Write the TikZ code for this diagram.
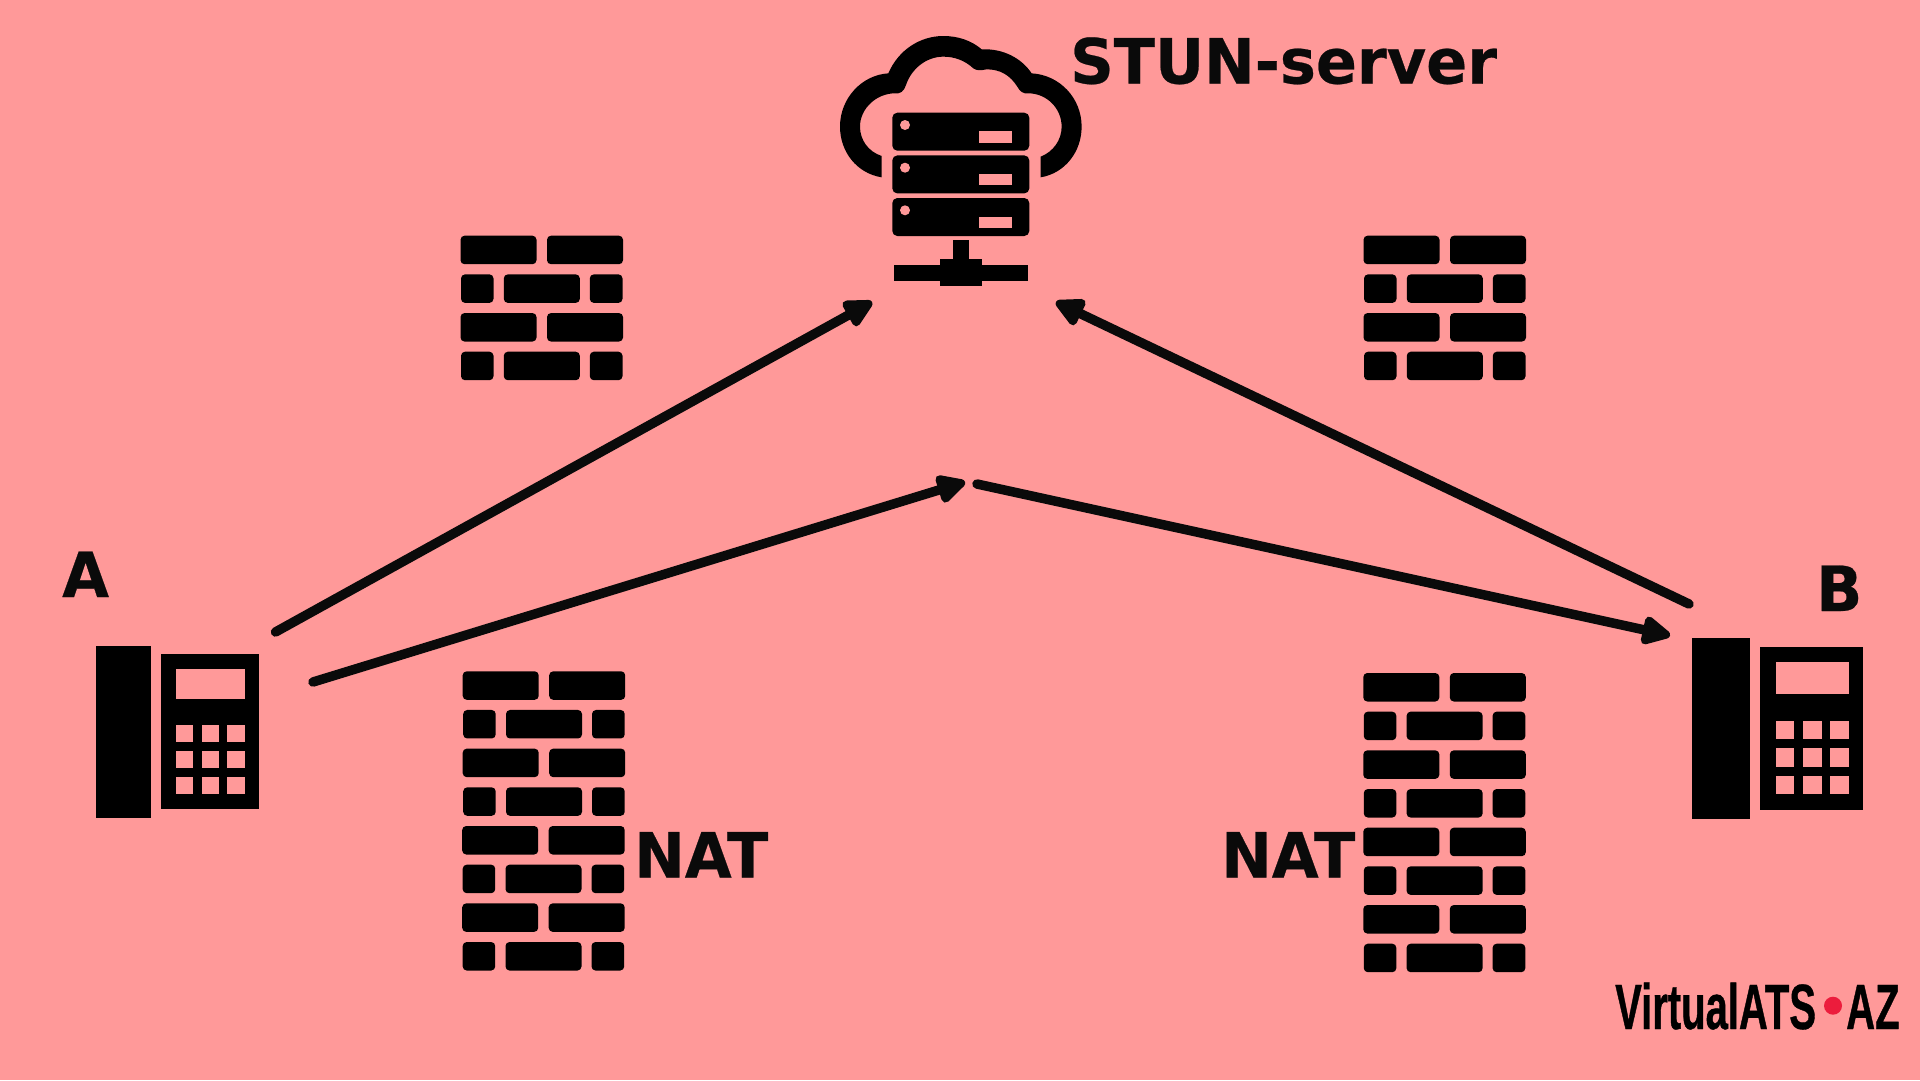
\documentclass[tikz,border=0pt]{standalone}
\usepackage{fontspec}
\setmainfont{DejaVu Sans}[BoldFeatures={FakeBold=0.4}]
\newfontfamily\logofont[FakeStretch=0.625,BoldFeatures={FakeStretch=0.625,FakeBold=0.6}]{Liberation Sans}
\usetikzlibrary{arrows.meta}

\definecolor{bgpink}{HTML}{FF9999}
\definecolor{inkgrey}{HTML}{0A0A0A}
\definecolor{logored}{HTML}{EC1C3C}

\tikzset{
 label/.style={inner sep=0pt,anchor=base west,yscale=1.03,text=inkgrey,font=\fontsize{60.5}{60.5}\selectfont\bfseries},
 logotext/.style={inner sep=0pt,anchor=base west,font=\fontsize{64}{64}\selectfont\logofont\bfseries},
 flow/.style={->,inkgrey,line width=9.5pt,line cap=round},
 brick/.style={fill=black,rounded corners=4pt},
 pics/phone/.style={code={
  \fill[black] (0,0) rectangle (58.3,180.7);
  \fill[black] (68.6,8.7) rectangle (171.6,172);
  \fill[bgpink] (84.3,24) rectangle (157.3,56);
  \foreach \kx in {84.3,111.6,138.6}
   \foreach \ky in {82.7,110.3,138}
    \fill[bgpink] (\kx,\ky) rectangle ++(18.4,18.3);
 }}
}

% one wall: left, top, number of double rows
\newcommand{\brickwall}[3]{
 \foreach \row in {1,...,#3}{
  \begin{scope}[shift={(#1,{#2+(\row-1)*77.34})}]
   \fill[brick] (0,0) rectangle (76,28.5);
   \fill[brick] (86.5,0) rectangle (162.5,28.5);
   \fill[brick] (0.5,38.67) rectangle (33,67.17);
   \fill[brick] (43.3,38.67) rectangle (119.3,67.17);
   \fill[brick] (129.3,38.67) rectangle (162,67.17);
  \end{scope}
 }
}

\begin{document}
\begin{tikzpicture}[x=1pt,y=-1pt,>={Triangle[length=33pt,width=31pt,line width=8pt,round]}]
 \fill[bgpink] (0,0) rectangle (1920,1080);

 % cloud
 \begin{scope}[shift={(800,10)},x=0.3333pt,y=-0.3333pt]
  \fill[black] (245,502) .. controls (170,490) and (120,425) .. (120,350)
   .. controls (120,265) and (185,195) .. (265,190)
   .. controls (295,120) and (360,78) .. (430,78)
   .. controls (475,78) and (515,92) .. (545,118)
   .. controls (610,115) and (665,145) .. (695,190)
   .. controls (780,195) and (845,265) .. (845,350)
   .. controls (845,425) and (795,490) .. (722,502)
   -- (722,440)
   .. controls (760,425) and (785,390) .. (785,350)
   .. controls (785,295) and (740,250) .. (685,250)
   .. controls (670,252) and (660,245) .. (652,230)
   .. controls (630,195) and (600,178) .. (560,178)
   .. controls (540,182) and (530,182) .. (520,175)
   .. controls (495,152) and (465,140) .. (430,140)
   .. controls (380,140) and (335,175) .. (318,225)
   .. controls (312,245) and (300,252) .. (285,250)
   .. controls (230,250) and (180,295) .. (180,350)
   .. controls (180,390) and (205,425) .. (245,438) -- cycle;
 \end{scope}

 % server
 \foreach \sy in {112.7,155.4,198}{
  \fill[black,rounded corners=5pt] (892.3,\sy) rectangle (1029.3,\sy+38);
  \fill[bgpink] (905,\sy+12.3) circle (5);
  \fill[bgpink] (979.3,\sy+18.6) rectangle (1011.7,\sy+30);
 }
 \fill[black] (953,240.3) rectangle (969,260);
 \fill[black] (939.7,259.3) rectangle (982.3,286);
 \fill[black] (893.7,264.7) rectangle (1028.3,280.7);

 \brickwall{460.5}{235.7}{2}
 \brickwall{1363.5}{235.7}{2}
 \brickwall{462.7}{671.3}{2}
 \brickwall{462.2}{826}{2}
 \brickwall{1363.3}{673}{4}

 \pic at (95.7,646) [scale=0.95] {phone};
 \pic at (1691.7,638) {phone};

 \node[label] (stun) at (1070,83.5) {STUN-server};
 \node[label] (usera) at (62,597) {A};
 \node[label] (userb) at (1816,611) {B};
 \node[label] (natleft) at (634,877.5) {NAT};
 \node[label] (natright) at (1221,877.5) {NAT};

 \node[logotext] (logoleft) at (1615,1029) {VirtualATS};
 \node[logotext] (logoright) at (1846,1029) {AZ};
 \fill[logored] (1833,1005.7) circle (9);

 \coordinate (aup) at (275.5,632);
 \coordinate (adown) at (313,682);
 \coordinate (bup) at (1689,604);
 \coordinate (bdown) at (1670,635.5);
 \coordinate (stunleft) at (872,302);
 \coordinate (stunright) at (1056,302);
 \coordinate (midleft) at (965,482);
 \coordinate (midright) at (977,484);

 \draw[flow] (aup) -- (stunleft);
 \draw[flow] (bup) -- (stunright);
 \draw[flow] (adown) -- (midleft);
 \draw[flow] (midright) -- (bdown);
\end{tikzpicture}
\end{document}
